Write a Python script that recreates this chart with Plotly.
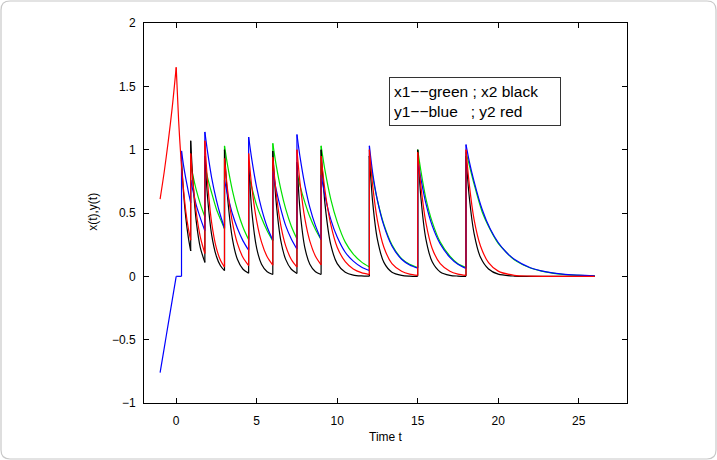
import plotly.graph_objects as go

# ---------------- data ----------------
# repeated time value = jump (impulse) or sharp corner
t_green = [0.9, 1.05, 1.25, 1.5, 1.78,
           1.78, 1.95, 2.2, 2.5, 2.75, 3.0,
           3.0, 3.2, 3.5, 3.8, 4.15, 4.5,
           4.5, 4.7, 5.0, 5.3, 5.65, 6.0,
           6.0, 6.2, 6.5, 6.8, 7.15, 7.5,
           7.5, 7.7, 8.0, 8.3, 8.65, 9.0,
           9.0, 9.25, 9.6, 10.0, 10.5, 11.0, 11.5, 12.0,
           12.0, 12.2, 12.5, 12.9, 13.4, 14.0, 14.5, 15.0,
           15.0, 15.2, 15.5, 15.9, 16.4, 17.0, 17.5, 18.0,
           18.0, 18.2, 18.5, 19.0, 19.5, 20.0, 20.5, 21.0, 22.0, 23.0, 24.0, 25.0, 26.0]
x1_green = [0.88, 0.79, 0.68, 0.57, 0.47,
            0.88, 0.78, 0.66, 0.53, 0.45, 0.375,
            1.03, 0.87, 0.673, 0.522, 0.387, 0.288,
            0.80, 0.70, 0.56, 0.46, 0.36, 0.28,
            1.05, 0.886, 0.686, 0.532, 0.395, 0.294,
            0.82, 0.71, 0.58, 0.47, 0.37, 0.29,
            1.03, 0.83, 0.61, 0.43, 0.27, 0.176, 0.114, 0.073,
            0.95, 0.79, 0.60, 0.41, 0.25, 0.14, 0.095, 0.07,
            1.0, 0.83, 0.62, 0.43, 0.27, 0.16, 0.10, 0.07,
            0.98, 0.88, 0.73, 0.51, 0.37, 0.26, 0.19, 0.13, 0.066, 0.033, 0.016, 0.008, 0.004]

t_black = [0.33, 0.45, 0.6, 0.75, 0.9,
           0.9, 1.05, 1.25, 1.5, 1.78,
           1.78, 1.95, 2.2, 2.5, 2.75, 3.0,
           3.0, 3.2, 3.5, 3.8, 4.15, 4.5,
           4.5, 4.7, 5.0, 5.3, 5.65, 6.0,
           6.0, 6.2, 6.5, 6.8, 7.15, 7.5,
           7.5, 7.7, 8.0, 8.3, 8.65, 9.0,
           9.0, 9.25, 9.6, 10.0, 10.5, 11.0, 11.5, 12.0,
           12.0, 12.2, 12.5, 12.9, 13.4, 14.0, 14.5, 15.0,
           15.0, 15.2, 15.5, 15.9, 16.4, 17.0, 17.5, 18.0,
           18.0, 18.2, 18.5, 18.9, 19.4, 20.0, 21.0, 22.0, 26.0]
x2_black = [0.92, 0.67, 0.46, 0.31, 0.20,
            1.07, 0.73, 0.43, 0.225, 0.11,
            0.95, 0.62, 0.33, 0.157, 0.084, 0.045,
            1.0, 0.61, 0.29, 0.135, 0.056, 0.024,
            0.90, 0.51, 0.22, 0.096, 0.036, 0.014,
            0.99, 0.60, 0.28, 0.134, 0.056, 0.023,
            0.90, 0.51, 0.22, 0.096, 0.036, 0.014,
            1.0, 0.56, 0.25, 0.10, 0.032, 0.01, 0.003, 0.001,
            0.95, 0.59, 0.29, 0.11, 0.033, 0.008, 0.002, 0.0,
            1.0, 0.62, 0.30, 0.115, 0.035, 0.008, 0.002, 0.0,
            0.95, 0.63, 0.34, 0.15, 0.058, 0.017, 0.002, 0.0, 0.0]

t_blue = [-1.0, -0.75, -0.5, -0.25, 0.0,
          0.0, 0.33,
          0.33, 0.45, 0.6, 0.75, 0.9,
          0.9, 1.05, 1.25, 1.5, 1.78,
          1.78, 1.95, 2.2, 2.5, 2.75, 3.0,
          3.0, 3.2, 3.5, 3.8, 4.15, 4.5,
          4.5, 4.7, 5.0, 5.3, 5.65, 6.0,
          6.0, 6.2, 6.5, 6.8, 7.15, 7.5,
          7.5, 7.7, 8.0, 8.3, 8.65, 9.0,
          9.0, 9.25, 9.6, 10.0, 10.5, 11.0, 11.5, 12.0,
          12.0, 12.2, 12.5, 12.9, 13.4, 14.0, 14.5, 15.0,
          15.0, 15.2, 15.5, 15.9, 16.4, 17.0, 17.5, 18.0,
          18.0, 18.2, 18.5, 19.0, 19.5, 20.0, 20.5, 21.0, 22.0, 23.0, 24.0, 25.0, 26.0]
y1_blue = [-0.76, -0.57, -0.38, -0.19, 0.0,
           0.0, 0.0,
           0.99, 0.88, 0.77, 0.67, 0.58,
           0.76, 0.67, 0.56, 0.46, 0.36,
           1.14, 0.98, 0.78, 0.60, 0.48, 0.38,
           0.76, 0.64, 0.49, 0.38, 0.28, 0.206,
           1.10, 0.92, 0.70, 0.535, 0.39, 0.285,
           0.83, 0.69, 0.53, 0.40, 0.295, 0.215,
           1.12, 0.935, 0.715, 0.545, 0.40, 0.29,
           0.80, 0.63, 0.45, 0.31, 0.19, 0.12, 0.074, 0.046,
           1.03, 0.82, 0.60, 0.40, 0.24, 0.135, 0.09, 0.065,
           0.92, 0.77, 0.58, 0.40, 0.255, 0.15, 0.095, 0.062,
           1.04, 0.91, 0.75, 0.53, 0.375, 0.267, 0.19, 0.135, 0.068, 0.035, 0.017, 0.009, 0.004]

t_red = [-1.0, -0.75, -0.5, -0.25, 0.0,
         0.0, 0.15, 0.3, 0.45, 0.6, 0.75, 0.9,
         0.9, 1.05, 1.25, 1.5, 1.78,
         1.78, 1.95, 2.2, 2.5, 2.75, 3.0,
         3.0, 3.2, 3.5, 3.8, 4.15, 4.5,
         4.5, 4.7, 5.0, 5.3, 5.65, 6.0,
         6.0, 6.2, 6.5, 6.8, 7.15, 7.5,
         7.5, 7.7, 8.0, 8.3, 8.65, 9.0,
         9.0, 9.25, 9.6, 10.0, 10.5, 11.0, 11.5, 12.0,
         12.0, 12.2, 12.5, 12.9, 13.4, 14.0, 14.5, 15.0,
         15.0, 15.2, 15.5, 15.9, 16.4, 17.0, 17.5, 18.0,
         18.0, 18.2, 18.5, 18.9, 19.4, 20.0, 21.0, 22.0, 26.0]
y2_red = [0.61, 0.82, 1.06, 1.33, 1.65,
          1.65, 1.23, 0.92, 0.69, 0.51, 0.38, 0.285,
          0.97, 0.73, 0.50, 0.31, 0.18,
          1.07, 0.74, 0.425, 0.22, 0.127, 0.073,
          0.93, 0.675, 0.42, 0.26, 0.148, 0.084,
          0.97, 0.70, 0.436, 0.27, 0.154, 0.088,
          0.94, 0.67, 0.40, 0.24, 0.133, 0.073,
          1.0, 0.726, 0.449, 0.278, 0.159, 0.091,
          0.95, 0.67, 0.41, 0.23, 0.116, 0.058, 0.029, 0.014,
          1.0, 0.72, 0.44, 0.23, 0.10, 0.04, 0.018, 0.008,
          0.98, 0.71, 0.43, 0.22, 0.10, 0.04, 0.018, 0.008,
          1.0, 0.73, 0.45, 0.24, 0.108, 0.041, 0.008, 0.002, 0.0]

x_ticks = [0, 5, 10, 15, 20, 25]
y_ticks = [-1, -0.5, 0, 0.5, 1, 1.5, 2]
legend_lines = ["x1\u2212\u2212green ; x2 black", "y1\u2212\u2212blue\u00a0\u00a0\u00a0; y2 red"]

series = [
    (t_green, x1_green, "#00e000"),
    (t_black, x2_black, "#000000"),
    (t_blue, y1_blue, "#0000ff"),
    (t_red, y2_red, "#ff0000"),
]

FONT = "Liberation Sans, Arial, Helvetica, sans-serif"
fig = go.Figure()

for t, v, col in series:
    # split into smooth pieces at repeated times; jumps drawn straight
    pieces, cur = [], [(t[0], v[0])]
    jumps = []
    for i in range(1, len(t)):
        if t[i] == t[i - 1]:
            pieces.append(cur)
            if v[i] != v[i - 1]:
                jumps.append(((t[i - 1], v[i - 1]), (t[i], v[i])))
            cur = [(t[i], v[i])]
        else:
            cur.append((t[i], v[i]))
    pieces.append(cur)
    for p in pieces:
        fig.add_trace(go.Scatter(x=[a for a, b in p], y=[b for a, b in p], mode="lines",
                                 line=dict(color=col, width=1.2, shape="spline", smoothing=0.8),
                                 showlegend=False, hoverinfo="skip"))
    for (a0, b0), (a1, b1) in jumps:
        fig.add_trace(go.Scatter(x=[a0, a1], y=[b0, b1], mode="lines",
                                 line=dict(color=col, width=1.2),
                                 showlegend=False, hoverinfo="skip"))

axis_common = dict(showline=True, linecolor="black", linewidth=1, mirror="ticks",
                   ticks="inside", ticklen=5, tickcolor="black", tickwidth=1,
                   showgrid=False, zeroline=False,
                   tickfont=dict(family=FONT, size=12, color="black"))

fig.update_layout(
    width=717, height=460,
    margin=dict(l=144, r=90, t=23, b=57),
    plot_bgcolor="white", paper_bgcolor="white",
    xaxis=dict(range=[-2, 28], tickvals=x_ticks, ticklabelstandoff=7, **axis_common),
    yaxis=dict(range=[-1, 2], tickvals=y_ticks, ticklabelstandoff=5, **axis_common),
    annotations=[
        dict(text="Time t", xref="paper", yref="paper", x=0.5, y=-0.09,
             xanchor="center", yanchor="middle", showarrow=False,
             font=dict(family=FONT, size=12, color="black")),
        dict(text="x(t),y(t)", xref="paper", yref="paper", x=-0.1056, y=0.503,
             xanchor="center", yanchor="middle", showarrow=False, textangle=-90,
             font=dict(family=FONT, size=12, color="black")),
        dict(text="<br>".join(legend_lines), xref="paper", yref="paper",
             x=(389 - 144) / 483, y=(403 - 77) / 380, xanchor="left", yanchor="top",
             align="left", showarrow=False, bordercolor="#333333", borderwidth=1,
             borderpad=4, bgcolor="white", width=162, height=39,
             font=dict(family=FONT, size=15.5, color="black")),
    ],
)

# light rounded frame around the whole picture (paper coords)
x0, x1 = (1 - 144) / 483, (716 - 144) / 483
y0, y1 = (403 - 459) / 380, (403 - 1) / 380
rx, ry = 9 / 483, 9 / 380
path = (f"M {x0+rx},{y1} L {x1-rx},{y1} Q {x1},{y1} {x1},{y1-ry} L {x1},{y0+ry} "
        f"Q {x1},{y0} {x1-rx},{y0} L {x0+rx},{y0} Q {x0},{y0} {x0},{y0+ry} "
        f"L {x0},{y1-ry} Q {x0},{y1} {x0+rx},{y1} Z")
fig.add_shape(type="path", xref="paper", yref="paper", path=path,
              line=dict(color="#c8c8c8", width=1.2), layer="below")

fig.write_html("out.html")
